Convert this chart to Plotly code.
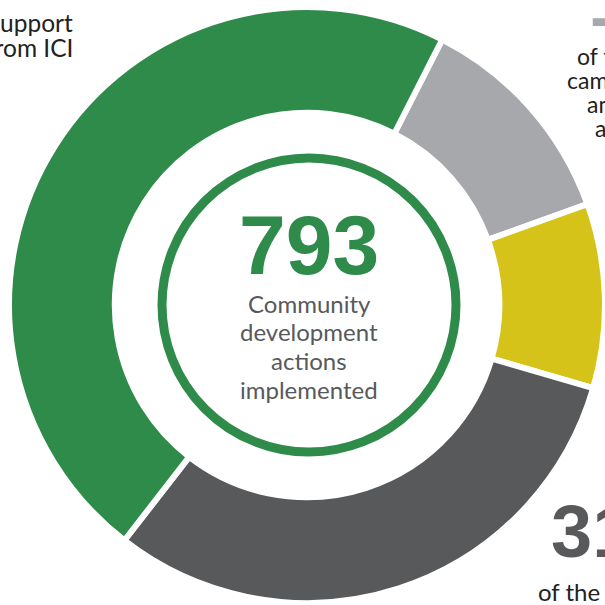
import plotly.graph_objects as go

# ---- data ----
categories = ["Awareness campaigns", "Other actions", "Other community actions", "Support from ICI"]
shares = [12, 10, 31, 47]
colors = ["#A7A8AB", "#D5C319", "#58595B", "#2E8B4A"]
total_actions = 793
center_label = ["Community", "development", "actions", "implemented"]
topleft_label = ["Support", "from ICI"]
topright_label = ["of the", "campaigns", "and", "awareness"]
bottomright_label = ["of the"]

W = H = 605


def px(x):
    return x / W


def py(y):
    return 1 - y / H


fig = go.Figure(
    go.Pie(
        labels=categories,
        values=shares,
        marker=dict(colors=colors, line=dict(color="white", width=6)),
        hole=0.645,
        sort=False,
        direction="clockwise",
        rotation=27,
        textinfo="none",
        hoverinfo="label+percent",
        showlegend=False,
        domain=dict(x=[px(9), 1.0], y=[py(603), py(7)]),
    )
)

BODY = "Lato, 'Noto Sans', sans-serif"
NUM = "'Liberation Sans', Arial, sans-serif"
TXT = "#222222"

ann = []
# center number
ann.append(dict(x=px(309), y=py(245), text=f"<b>{total_actions}</b>", showarrow=False,
                xanchor="center", yanchor="middle",
                font=dict(family=NUM, size=84, color="#2E8B4A")))
for i, line in enumerate(center_label):
    ann.append(dict(x=px(309), y=py(303 + 28.7 * i), text=line, showarrow=False,
                    xanchor="center", yanchor="middle",
                    font=dict(family=BODY, size=24, color="#58595B")))
# top-left label (cropped)
for i, line in enumerate(topleft_label):
    ann.append(dict(x=px(75), y=py(22.5 + 25 * i), text=line, showarrow=False,
                    xanchor="right", yanchor="middle",
                    font=dict(family=BODY, size=24.5, color=TXT)))
# top-right (light gray) label, cropped
ann.append(dict(x=px(586), y=py(-1), text=f"<b>{shares[0]}%</b>", showarrow=False,
                xanchor="left", yanchor="middle",
                font=dict(family=NUM, size=76, color="#A7A8AB")))
for line, xx, yy in zip(topright_label, [575, 565, 585, 593], [56, 80, 104, 128]):
    ann.append(dict(x=px(xx), y=py(yy), text=line, showarrow=False,
                    xanchor="left", yanchor="middle",
                    font=dict(family=BODY, size=23, color=TXT)))
# bottom-right (dark gray) label, cropped
ann.append(dict(x=px(549), y=py(531.5), text=f"<b>{shares[2]}%</b>", showarrow=False,
                xanchor="left", yanchor="middle",
                font=dict(family=NUM, size=74, color="#58595B")))
ann.append(dict(x=px(536), y=py(591), text=bottomright_label[0], showarrow=False,
                xanchor="left", yanchor="middle",
                font=dict(family=BODY, size=24, color=TXT)))

# inner green ring
cx, cy, r = 309, 305, 147
shapes = [dict(type="circle", xref="paper", yref="paper",
               x0=px(cx - r), x1=px(cx + r), y0=py(cy + r), y1=py(cy - r),
               line=dict(color="#2E8B4A", width=9), fillcolor="rgba(0,0,0,0)")]

fig.update_layout(
    width=W, height=H,
    margin=dict(l=0, r=0, t=0, b=0),
    paper_bgcolor="white", plot_bgcolor="white",
    annotations=ann, shapes=shapes,
)

fig.write_html("out.html")
